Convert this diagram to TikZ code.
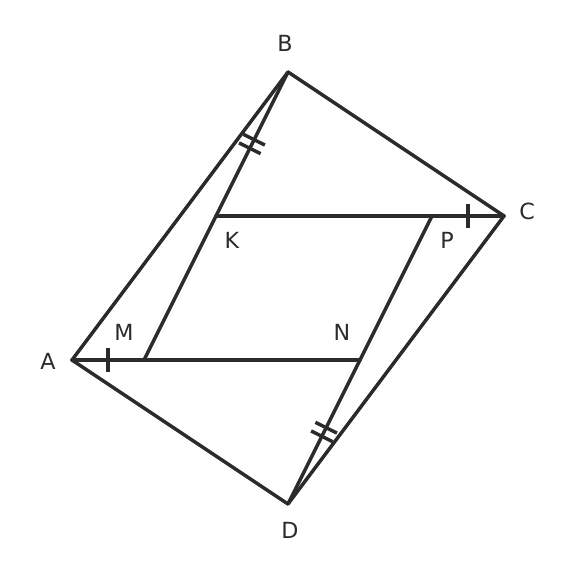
\documentclass[tikz,border=0pt]{standalone}
\usepackage{fontspec}
\setmainfont{DejaVu Sans}
\usetikzlibrary{calc}

\definecolor{ink}{RGB}{43,43,43}
\tikzset{
  edge/.style={draw=ink, line width=2.5pt, line cap=round, line join=round},
  tick/.style={draw=ink, line width=2.5pt},
  lbl/.style={text=ink, font=\fontsize{16pt}{19pt}\selectfont, inner sep=0pt}
}

\begin{document}
\begin{tikzpicture}[x=0.72pt,y=-0.72pt]
\useasboundingbox (0,0) rectangle (576,576);
% vertices
\coordinate (A) at (72,360);
\coordinate (B) at (288,72);
\coordinate (C) at (504,216);
\coordinate (D) at (288,504);
\coordinate (M) at (144,360);
\coordinate (N) at (360,360);
\coordinate (K) at (216,216);
\coordinate (P) at (432,216);
% outline and inner lines
\draw[edge] (A) -- (B) -- (C) -- (D) -- cycle;
\draw[edge] (A) -- (N);
\draw[edge] (K) -- (C);
\draw[edge] (B) -- (M);
\draw[edge] (D) -- (P);
% single ticks
\coordinate (am) at ($(A)!0.5!(M)$);
\coordinate (pc) at ($(P)!0.5!(C)$);
\draw[tick] ($(am)!8.64pt!90:(M)$) -- ($(am)!8.64pt!-90:(M)$);
\draw[tick] ($(pc)!8.64pt!90:(C)$) -- ($(pc)!8.64pt!-90:(C)$);
% double ticks
\foreach \s/\e in {B/K,N/D}{
  \foreach \f in {0.47,0.53}{
    \coordinate (t) at ($(\s)!\f!(\e)$);
    \draw[tick] ($(t)!8.64pt!90:(\e)$) -- ($(t)!8.64pt!-90:(\e)$);
  }
}
% labels
\node[lbl] (lA) at (48,361) {A};
\node[lbl] (lB) at (285,43) {B};
\node[lbl] (lC) at (527,211) {C};
\node[lbl] (lD) at (290,530) {D};
\node[lbl] (lM) at (124,332) {M};
\node[lbl] (lN) at (342,332) {N};
\node[lbl] (lK) at (232,240) {K};
\node[lbl] (lP) at (447,240) {P};
\end{tikzpicture}
\end{document}
